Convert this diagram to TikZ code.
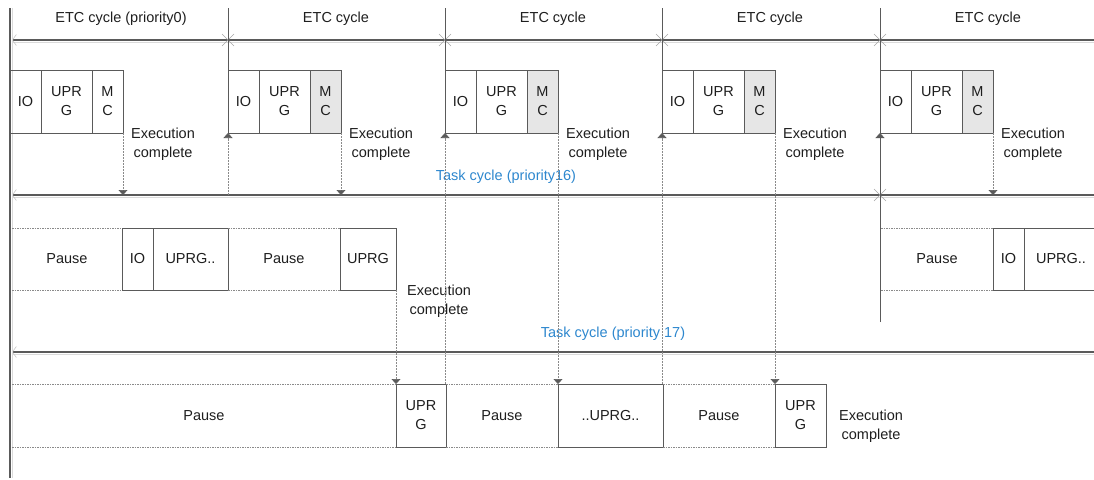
\documentclass[tikz,border=0pt]{standalone}
\usepackage{fontspec}
\setmainfont{Liberation Sans}
\usetikzlibrary{arrows.meta,positioning,calc}
\definecolor{linegray}{HTML}{5A5A5A}
\definecolor{shadegray}{HTML}{DADADA}
\definecolor{dashgray}{HTML}{8A8A8A}
\definecolor{mcgray}{HTML}{E6E6E6}
\definecolor{cycleblue}{HTML}{2D87CE}
\definecolor{inkblack}{HTML}{1E1E1E}
\tikzset{
 lbl/.style={text=inkblack,inner sep=0pt,align=center,font=\fontsize{14.5}{19}\selectfont},
 taskbox/.style={lbl,draw=linegray,line width=0.8pt,outer sep=0pt,minimum height=63pt,anchor=north west},
 mcbox/.style={taskbox,fill=mcgray},
 pausebox/.style={lbl,outer sep=0pt,minimum height=63pt,anchor=north west},
 pauseline/.style={draw=dashgray,line width=0.6pt,dash pattern=on 1.5pt off 1pt},
 timeline/.style={draw=linegray,line width=1.1pt,arrows={Straight Barb[length=4pt,width=11pt,color=gray!45,line width=0.6pt]-}},
 tlshade/.style={draw=shadegray,line width=1pt},
 sepline/.style={draw=linegray,line width=0.8pt},
 crossmark/.style={draw=gray!70,line width=0.6pt},
 donearrow/.style={draw=dashgray,line width=0.6pt,dash pattern=on 2pt off 1pt,-{Triangle[width=9pt,length=5pt,color=linegray]}}
}
\begin{document}
\begin{tikzpicture}[x=1pt,y=-1pt]
\useasboundingbox (0,0) rectangle (1094,479);

% time lines
\coordinate (tl1-w) at (12,40);  \coordinate (tl1-e) at (1094,40);
\coordinate (tl2-w) at (12,195); \coordinate (tl2-e) at (1094,195);
\coordinate (tl3-w) at (12,352); \coordinate (tl3-e) at (1094,352);
\foreach \t in {tl1,tl2,tl3}{
 \draw[tlshade] ([yshift=-2pt]\t-w) -- ([yshift=-2pt]\t-e);
 \draw[timeline] (\t-w) -- (\t-e);
}
\foreach \x in {228,445,662,880}
 \draw[crossmark] (\x,40) +(-6,-6) -- +(6,6) +(-6,6) -- +(6,-6);
\draw[crossmark] (880,195) +(-6,-6) -- +(6,6) +(-6,6) -- +(6,-6);

% left axis
\coordinate (axtop) at (10,8); \coordinate (axbot) at (10,478);
\draw[tlshade] ([xshift=2.5pt]axtop) -- ([xshift=2.5pt]axbot);
\draw[linegray,line width=2.4pt] (axtop) -- (axbot);

% ETC cycles
\node[lbl] (etc1) at (121,19) {ETC cycle (priority0)};
\node[taskbox,minimum width=31pt] (io1) at (10,70) {IO};
\node[taskbox,minimum width=51pt] (ug1) at (io1.north east) {UPR\\G};
\node[taskbox,minimum width=31pt] (mc1) at (ug1.north east) {M\\C};
\node[lbl,right=8pt of mc1.south east,yshift=-11pt] (ex1) {Execution\\complete};
\foreach \x [count=\i from 2] in {228,445,662,880}{
 \node[lbl] (etc\i) at (\x+108,19) {ETC cycle};
 \coordinate (sep\i) at (\x,8);
 \node[taskbox,minimum width=31pt] (io\i) at (\x,70) {IO};
 \node[taskbox,minimum width=51pt] (ug\i) at (io\i.north east) {UPR\\G};
 \node[mcbox,minimum width=31pt] (mc\i) at (ug\i.north east) {M\\C};
 \node[lbl,right=8pt of mc\i.south east,yshift=-11pt] (ex\i) {Execution\\complete};
 \draw[sepline] (sep\i) -- (io\i.north west);
}
\coordinate (sep5b) at (880,322);
\draw[sepline,-{Triangle[width=9pt,length=5pt]}] (sep5b) -- (io5.south west);

\node[lbl,text=cycleblue] (tc16) at (506,177) {Task cycle (priority16)};
\node[lbl,text=cycleblue] (tc17) at (613,334) {Task cycle (priority 17)};

% task cycle priority 16
\node[pausebox,minimum width=110pt,minimum height=62pt] (pa1) at (12,228) {Pause};
\node[taskbox,minimum width=31pt,minimum height=62pt] (iob1) at (pa1.north east) {IO};
\node[taskbox,minimum width=75pt,minimum height=62pt] (ugb1) at (iob1.north east) {UPRG..};
\node[pausebox,minimum width=112pt,minimum height=62pt] (pa2) at (ugb1.north east) {Pause};
\node[taskbox,minimum width=56pt,minimum height=62pt] (urb1) at (pa2.north east) {UPRG};
\node[lbl,right=11pt of urb1.south east,yshift=-11pt] (exb1) {Execution\\complete};
\node[pausebox,minimum width=112pt,minimum height=62pt] (pa3) at (881,228) {Pause};
\node[taskbox,minimum width=31pt,minimum height=62pt] (iob2) at (pa3.north east) {IO};
\node[taskbox,minimum width=74pt,minimum height=62pt] (ugb2) at (iob2.north east) {UPRG..};

% task cycle priority 17
\node[pausebox,minimum width=384pt] (pb1) at (12,384) {Pause};
\node[taskbox,minimum width=50pt] (ub1) at (pb1.north east) {UPR\\G};
\node[pausebox,minimum width=112pt] (pb2) at (ub1.north east) {Pause};
\node[taskbox,minimum width=105pt] (ub2) at (pb2.north east) {..UPRG..};
\node[pausebox,minimum width=112pt] (pb3) at (ub2.north east) {Pause};
\node[taskbox,minimum width=51pt] (ub3) at (pb3.north east) {UPR\\G};
\node[lbl,right=13pt of ub3.east,yshift=-11pt] (exb2) {Execution\\complete};

\foreach \p in {pa1,pa2,pa3,pb1,pb2,pb3}
 \draw[pauseline] (\p.north west) -- (\p.north east) (\p.south west) -- (\p.south east);

% execution complete / start
\draw[donearrow] (mc1.south east) -- (mc1.south east |- tl2-w);
\draw[donearrow] (mc2.south east) -- (mc2.south east |- tl2-w);
\draw[donearrow] (mc3.south east) -- (mc3.south east |- ub2.north west);
\draw[donearrow] (mc4.south east) -- (mc4.south east |- ub3.north west);
\draw[donearrow] (mc5.south east) -- (mc5.south east |- tl2-w);
\draw[donearrow] (urb1.south east) -- (urb1.south east |- ub1.north west);
\draw[donearrow] (io2.south west |- tl2-w) -- (io2.south west);
\draw[donearrow] (io3.south west |- pb2.north west) -- (io3.south west);
\draw[donearrow] (io4.south west |- pb3.north west) -- (io4.south west);
\end{tikzpicture}
\end{document}
